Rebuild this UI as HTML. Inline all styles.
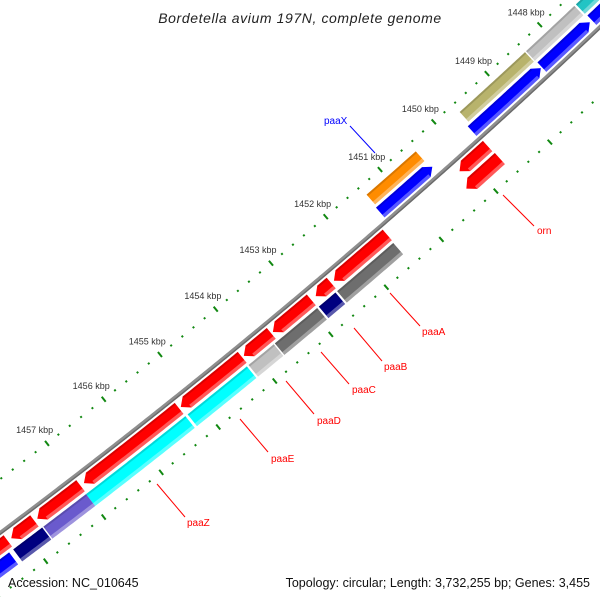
<!DOCTYPE html>
<html><head><meta charset="utf-8"><style>
html,body{margin:0;padding:0;background:#fff;width:600px;height:600px;overflow:hidden;}
svg{display:block;font-family:"Liberation Sans",sans-serif;overflow:hidden;}
</style></head><body>
<svg id="map" width="600" height="600" viewBox="0 0 600 600" xmlns="http://www.w3.org/2000/svg">
<rect width="600" height="600" fill="#fff"/>
<g id="ticks"></g>
<g id="feats"></g>
<g id="bb"></g>
<g font-size="10" fill="#ff0000">
<line x1="390" y1="293" x2="420" y2="326" stroke="#ff0000" stroke-width="1"/>
<text x="422" y="335">paaA</text>
<line x1="354" y1="328" x2="382" y2="361" stroke="#ff0000" stroke-width="1"/>
<text x="384" y="370">paaB</text>
<line x1="321" y1="352" x2="349" y2="384" stroke="#ff0000" stroke-width="1"/>
<text x="352" y="393">paaC</text>
<line x1="286" y1="381" x2="314" y2="414" stroke="#ff0000" stroke-width="1"/>
<text x="317" y="424">paaD</text>
<line x1="240" y1="419" x2="268" y2="452" stroke="#ff0000" stroke-width="1"/>
<text x="271" y="462">paaE</text>
<line x1="157" y1="484" x2="185" y2="517" stroke="#ff0000" stroke-width="1"/>
<text x="187" y="526">paaZ</text>
<line x1="503" y1="195" x2="534" y2="226" stroke="#ff0000" stroke-width="1"/>
<text x="537" y="234">orn</text>
<line x1="350" y1="126" x2="375" y2="153" stroke="#0000ff" stroke-width="1"/>
<text x="324" y="124" fill="#0000ff">paaX</text>
</g>
<text x="300" y="23" text-anchor="middle" font-size="14" font-style="italic" letter-spacing="0.6" fill="#222">Bordetella avium 197N, complete genome</text>
<text x="8" y="587" font-size="12.5" fill="#111">Accession: NC_010645</text>
<text x="590" y="587" text-anchor="end" font-size="12.5" fill="#111">Topology: circular; Length: 3,732,255 bp; Genes: 3,455</text>
</svg>
<script>
const labelKbp = [1448,1449,1450,1451,1452,1453,1454,1455,1456,1457];
const featStart = [1445.5,1447.47,1448.41,1450.46, 1446.0,1447.47,1448.40,1450.43, 1449.67,1451.52,1452.54,1452.90,1453.62,1454.14,1455.26,1456.99,1457.79,1458.25, 1449.66,1451.53,1452.58,1452.91,1453.69,1454.17,1455.26,1457.0,1457.76,1458.33];
const featEnd   = [1447.44,1448.39,1449.64,1451.37, 1447.43,1448.38,1449.69,1451.39, 1450.19,1452.49,1452.82,1453.59,1454.11,1455.23,1456.93,1457.74,1458.19,1459.6, 1450.28,1452.55,1452.88,1453.67,1454.14,1455.22,1457.0,1457.74,1458.26,1459.6];
const featTrack = [0,0,0,0, 1,1,1,1, 2,2,2,2,2,2,2,2,2,2, 3,3,3,3,3,3,3,3,3,3];
const featDir   = [0,0,0,0, -1,-1,-1,-1, 1,1,1,1,1,1,1,1,1,1, 1,0,0,0,0,0,0,0,0,0];
const featColor = ["#22c4c4","#c0c0c0","#b8b36c","#ff8c00","#0000ff","#0000ff","#0000ff","#0000ff","#ff0000","#ff0000","#ff0000","#ff0000","#ff0000","#ff0000","#ff0000","#ff0000","#ff0000","#ff0000","#ff0000","#6e6e6e","#000080","#6e6e6e","#c0c0c0","#00ffff","#00ffff","#6a5acd","#000080","#0000ff"];
const featName  = ["cyan-gene","silver-gene","olive-gene","orange-gene-paaX","blue-gene-0","blue-gene-1","blue-gene-2","blue-gene-3","orn-gene-a","paaA-gene","red-gene-2","red-gene-3","red-gene-4","red-gene-5","red-gene-6","red-gene-7","red-gene-8","red-gene-9","orn-gene-b","paaA-cog","paaB-cog","paaC-cog","paaD-cog","paaE-cog","paaZ-cog","slate-cog","navy-cog","blue-cog"];

const NS="http://www.w3.org/2000/svg";
const cx=-4023, cy=-4846;
const trackR=[[6684,6697],[6700,6713],[6721,6735],[6738,6753]];
function P(k,r){const a=(46.87+0.617*(k-1448))*Math.PI/180;return [cx+r*Math.cos(a), cy+r*Math.sin(a)];}
function f(p){return p[0].toFixed(2)+","+p[1].toFixed(2);}
function arcPts(a,b,r){const n=Math.max(2,Math.ceil(Math.abs(b-a)/0.04)+1);const o=[];for(let i=0;i<n;i++){o.push(P(a+(b-a)*i/(n-1),r));}return o;}
function band(a,b,r1,r2){return arcPts(a,b,r2).concat(arcPts(b,a,r1));}
function featPts(a,b,r1,r2,dir){
  const h=0.11; let ba=a, bb=b;
  if(dir===1) bb=Math.max(a,b-h);
  if(dir===-1) ba=Math.min(b,a+h);
  let pts=arcPts(ba,bb,r2);
  if(dir===1) pts.push(P(b,(r1+r2)/2));
  pts=pts.concat(arcPts(bb,ba,r1));
  if(dir===-1) pts.push(P(a,(r1+r2)/2));
  return pts;
}
function poly(parent,pts,fill,op){const e=document.createElementNS(NS,"polygon");e.setAttribute("points",pts.map(f).join(" "));e.setAttribute("fill",fill);if(op!==undefined)e.setAttribute("fill-opacity",op);parent.appendChild(e);return e;}

const bb=document.getElementById("bb");
const bl=document.createElementNS(NS,"polyline");


bl.setAttribute("points",arcPts(1445,1460,6717).map(f).join(" "));
bl.setAttribute("fill","none");bl.setAttribute("stroke","#8e8e8e");bl.setAttribute("stroke-width","4");
bb.appendChild(bl);
const bl2=document.createElementNS(NS,"polyline");


bl2.setAttribute("points",arcPts(1445,1460,6718.2).map(f).join(" "));
bl2.setAttribute("fill","none");bl2.setAttribute("stroke","#6a6a6a");bl2.setAttribute("stroke-width","1.3");
bb.appendChild(bl2);

const tg=document.getElementById("ticks");
[6674,6767].forEach(function(r){
  for(let i=0;i<=75;i++){
    const k=1445+i*0.2;
    const major=Math.abs(k-Math.round(k))<0.01;
    const len=major?3.2:1;
    const p1=P(k,r-len),p2=P(k,r+len);
    const l=document.createElementNS(NS,"line");
    
    
    l.setAttribute("x1",p1[0]);l.setAttribute("y1",p1[1]);l.setAttribute("x2",p2[0]);l.setAttribute("y2",p2[1]);
    l.setAttribute("stroke","#118811");l.setAttribute("stroke-width",2);
    tg.appendChild(l);
  }
});
labelKbp.forEach(function(k){
  const p=P(k,6657);
  const t=document.createElementNS(NS,"text");
  
  
  t.setAttribute("x",p[0]-2);t.setAttribute("y",p[1]+3);
  t.setAttribute("text-anchor","middle");t.setAttribute("font-size","9");t.setAttribute("fill","#333");
  t.textContent=k+" kbp";
  tg.appendChild(t);
});

const fg=document.getElementById("feats");
for(let i=0;i<featStart.length;i++){
  const g=document.createElementNS(NS,"g");
  
  
  const r1=trackR[featTrack[i]][0], r2=trackR[featTrack[i]][1];
  const a=featStart[i], b=featEnd[i], d=featDir[i];
  poly(g,featPts(a,b,r1,r2,d),featColor[i]);
  const h=0.11;
  const ba=d===-1?Math.min(b,a+h):a, bbk=d===1?Math.max(a,b-h):b;
  poly(g,band(ba,bbk,r2-3.5,r2),"#ffffff",0.35);
  poly(g,band(ba,bbk,r1,r1+2),"#000000",0.15);
  fg.appendChild(g);
}
</script>
</body></html>
